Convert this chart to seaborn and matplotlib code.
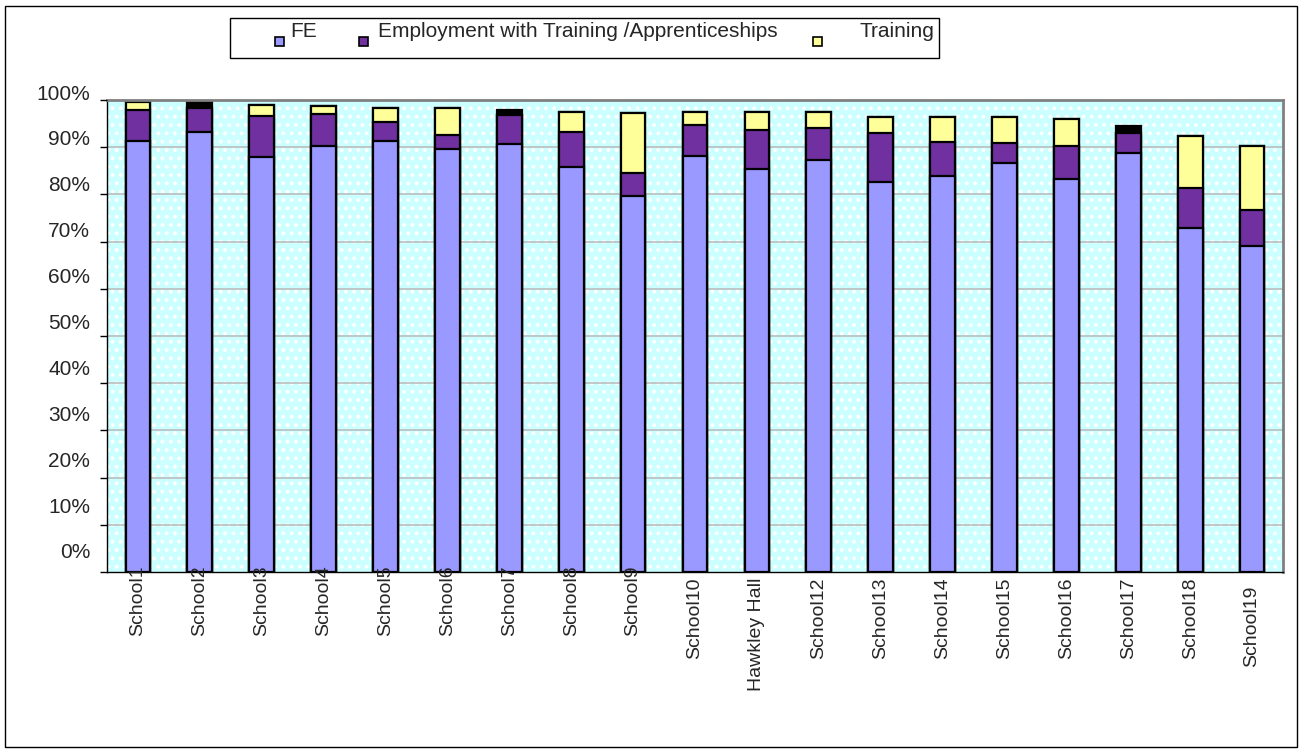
import matplotlib
matplotlib.use("Agg")
import matplotlib.pyplot as plt
import matplotlib.transforms as mtransforms
from matplotlib.patches import Rectangle
import seaborn as sns
import numpy as np

# ---------------------------------------------------------------------------
# data (percent of leavers)
# ---------------------------------------------------------------------------
schools = ["School1", "School2", "School3", "School4", "School5", "School6",
           "School7", "School8", "School9", "School10", "Hawkley Hall",
           "School12", "School13", "School14", "School15", "School16",
           "School17", "School18", "School19"]
fe = [91.4, 93.3, 87.9, 90.2, 91.3, 89.7, 90.7, 85.8, 79.6, 88.2, 85.4,
      87.3, 82.7, 83.9, 86.6, 83.2, 88.7, 72.9, 69.1]
employment = [6.5, 4.9, 8.8, 6.9, 4.1, 2.9, 6.1, 7.5, 4.9, 6.5, 8.3,
              6.7, 10.4, 7.3, 4.3, 7.1, 4.4, 8.5, 7.6]
training = [1.6, 0.0, 2.2, 1.7, 3.0, 5.6, 0.0, 4.1, 12.7, 2.7, 3.7,
            3.4, 3.4, 5.3, 5.5, 5.7, 0.0, 10.9, 13.5]
other = [0.0, 1.6, 0.0, 0.0, 0.0, 0.0, 1.1, 0.0, 0.0, 0.0, 0.0,
         0.0, 0.0, 0.0, 0.0, 0.0, 1.4, 0.0, 0.0]
series_names = ["FE", "Employment with Training /Apprenticeships", "Training"]
yticks = list(range(0, 101, 10))

colors = {"FE": "#9999FF", "Emp": "#7030A0", "Training": "#FFFF99", "Other": "#000000"}

# ---------------------------------------------------------------------------
# style
# ---------------------------------------------------------------------------
sns.set_style("white")
plt.rcParams["font.family"] = ["Liberation Sans", "DejaVu Sans"]
plt.rcParams["hatch.linewidth"] = 1.6

W, H = 1302, 751
fig = plt.figure(figsize=(W / 100, H / 100), dpi=100, facecolor="white")
ax = fig.add_axes([107 / W, 1 - 572 / H, (1283 - 107) / W, (572 - 100) / H])

# speckled cyan plot area + gridlines (kept under the bars, labels stay on top)
ax.add_patch(Rectangle((0, 0), 1, 1, transform=ax.transAxes, facecolor="#CCFFFF",
                       edgecolor="white", linewidth=0, hatch="..", zorder=0.1))
for v in yticks[1:-1]:
    ax.axhline(v, color="#BDBDBD", linewidth=1.2, zorder=0.5)

# stacked bars drawn as overlapping cumulative heights (top layer first)
c1 = np.array(fe)
c2 = c1 + np.array(employment)
c3 = c2 + np.array(training)
c4 = c3 + np.array(other)
for vals, col in [(c4, colors["Other"]), (c3, colors["Training"]),
                  (c2, colors["Emp"]), (c1, colors["FE"])]:
    sns.barplot(x=schools, y=vals, order=schools, color=col, saturation=1,
                width=0.4, edgecolor="black", linewidth=1.6, ax=ax, zorder=2)

ax.set_xlim(-0.5, len(schools) - 0.5)
ax.set_ylim(0, 100)
ax.set_yticks(yticks)
ax.set_yticklabels([f"{v}%" for v in yticks], fontsize=15)
ax.set_xticks(range(len(schools)))
ax.set_xticklabels(schools, rotation=90, fontsize=14, va="top", ha="center")
ax.set_xticks(np.arange(-0.5, len(schools), 1), minor=True)
ax.tick_params(axis="x", which="major", length=0, pad=4)
ax.tick_params(axis="x", which="minor", length=5, width=1, color="black", direction="out")
ax.tick_params(axis="y", which="major", length=5, width=1, color="black",
               direction="out", pad=7, left=True)
ax.set_xlabel("")
ax.set_ylabel("")
ax.grid(False)
ax.xaxis.set_zorder(3)
ax.yaxis.set_zorder(3)

# Excel places the value labels a little above their gridlines
for v, lab in zip(yticks, ax.get_yticklabels()):
    dy = 21 - 0.13 * v
    lab.set_transform(lab.get_transform() +
                      mtransforms.ScaledTranslation(0, dy / 100, fig.dpi_scale_trans))
# and the short category names ride up over the axis
for lab in ax.get_xticklabels():
    name = lab.get_text()
    dy = 0
    if len(name) == 7:
        dy = 12
    elif name == "School19":
        dy = -8
    lab.set_transform(lab.get_transform() +
                      mtransforms.ScaledTranslation(0, dy / 100, fig.dpi_scale_trans))

for side in ["left", "bottom"]:
    ax.spines[side].set_color("black")
    ax.spines[side].set_linewidth(1)
for side in ["top", "right"]:
    ax.spines[side].set_color("#808080")
    ax.spines[side].set_linewidth(2)

# outer chart border
fig.add_artist(Rectangle((5 / W, 1 - 747 / H), (1297 - 5) / W, (747 - 6) / H,
                         transform=fig.transFigure, fill=False, edgecolor="black",
                         linewidth=1))

# legend box (Excel style: text sits above the markers)
fig.add_artist(Rectangle((230 / W, 1 - 58 / H), (939 - 230) / W, (58 - 18) / H,
                         transform=fig.transFigure, fill=False, edgecolor="black",
                         linewidth=1))
legend_cols = [colors["FE"], colors["Emp"], colors["Training"]]
marker_x = [275, 359, 813]
text_x = [290, 378, 860]
for name, col, mx, tx in zip(series_names, legend_cols, marker_x, text_x):
    fig.add_artist(Rectangle((mx / W, 1 - 46 / H), 9 / W, 9 / H,
                             transform=fig.transFigure, facecolor=col,
                             edgecolor="black", linewidth=1.2))
    fig.text(tx / W, 1 - 37 / H, name, fontsize=15, ha="left", va="baseline")

fig.savefig("out.png", dpi=100, facecolor="white")
